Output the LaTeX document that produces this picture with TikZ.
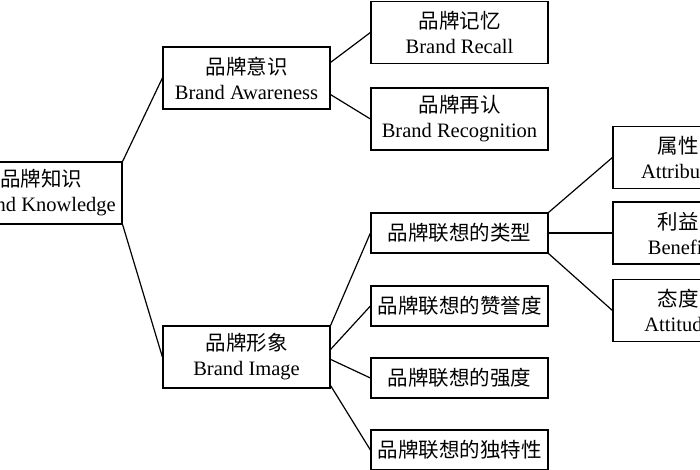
\documentclass[tikz,border=0pt]{standalone}
\usepackage{fontspec}
\setmainfont{Liberation Serif}
\newfontfamily\cjk{Noto Sans CJK SC}
\usetikzlibrary{positioning}

\begin{document}
\begin{tikzpicture}[
    x = 1pt,
    y = -1pt,
    font = \fontsize{20.5}{25}\selectfont,
    box/.style = {
      rectangle,
      draw,
      line width=1.2pt,
      align=center,
      inner sep=0pt,
      minimum width=177pt,
      minimum height=62pt
    },
    lbox/.style = {
      box,
      minimum height=40pt
    },
    link/.style = {
      line width=1.2pt
    }
  ]
    \useasboundingbox[fill=white] (0,0) rectangle (700,470);

    \node[box, minimum width=162pt] (know) at (41,193) {{\cjk 品牌知识}\\Brand Knowledge};
    \node[box, minimum width=167pt] (aware) at (246.5,78) {{\cjk 品牌意识}\\Brand Awareness};
    \node[box, minimum width=167pt] (image) at (246.5,357) {{\cjk 品牌形象}\\Brand Image};

    \node[box] (recall) at (459.5,32.5) {{\cjk 品牌记忆}\\Brand Recall};
    \node[box] (recog) at (459.5,119) {{\cjk 品牌再认}\\Brand Recognition};

    \node[lbox] (types) at (459.5,233) {\cjk 品牌联想的类型};
    \node[lbox] (favor) at (459.5,306) {\cjk 品牌联想的赞誉度};
    \node[lbox] (strength) at (459.5,378) {\cjk 品牌联想的强度};
    \node[lbox] (unique) at (459.5,450) {\cjk 品牌联想的独特性};

    \node[box, minimum width=130pt] (attr) at (678,157.5) {{\cjk 属性}\\Attribute};
    \node[box, minimum width=130pt] (benef) at (678,233) {{\cjk 利益}\\Benefit};
    \node[box, minimum width=130pt] (attit) at (678,310.5) {{\cjk 态度}\\Attitude};

    \draw[link] (know.north east) -- (aware.west);
    \draw[link] (know.south east) -- (image.west);

    \draw[link] ([yshift=-16pt]aware.north east) -- (recall.west);
    \draw[link] ([yshift=15pt]aware.south east) -- (recog.west);

    \draw[link] (image.north east) -- (types.west);
    \draw[link] ([yshift=-24pt]image.north east) -- (favor.west);
    \draw[link] ([yshift=-34pt]image.north east) -- (strength.west);
    \draw[link] ([yshift=3pt]image.south east) -- (unique.west);

    \draw[link] (types.north east) -- (attr.west);
    \draw[link] (types.east) -- (benef.west);
    \draw[link] (types.south east) -- (attit.west);
  \end{tikzpicture}
\end{document}
